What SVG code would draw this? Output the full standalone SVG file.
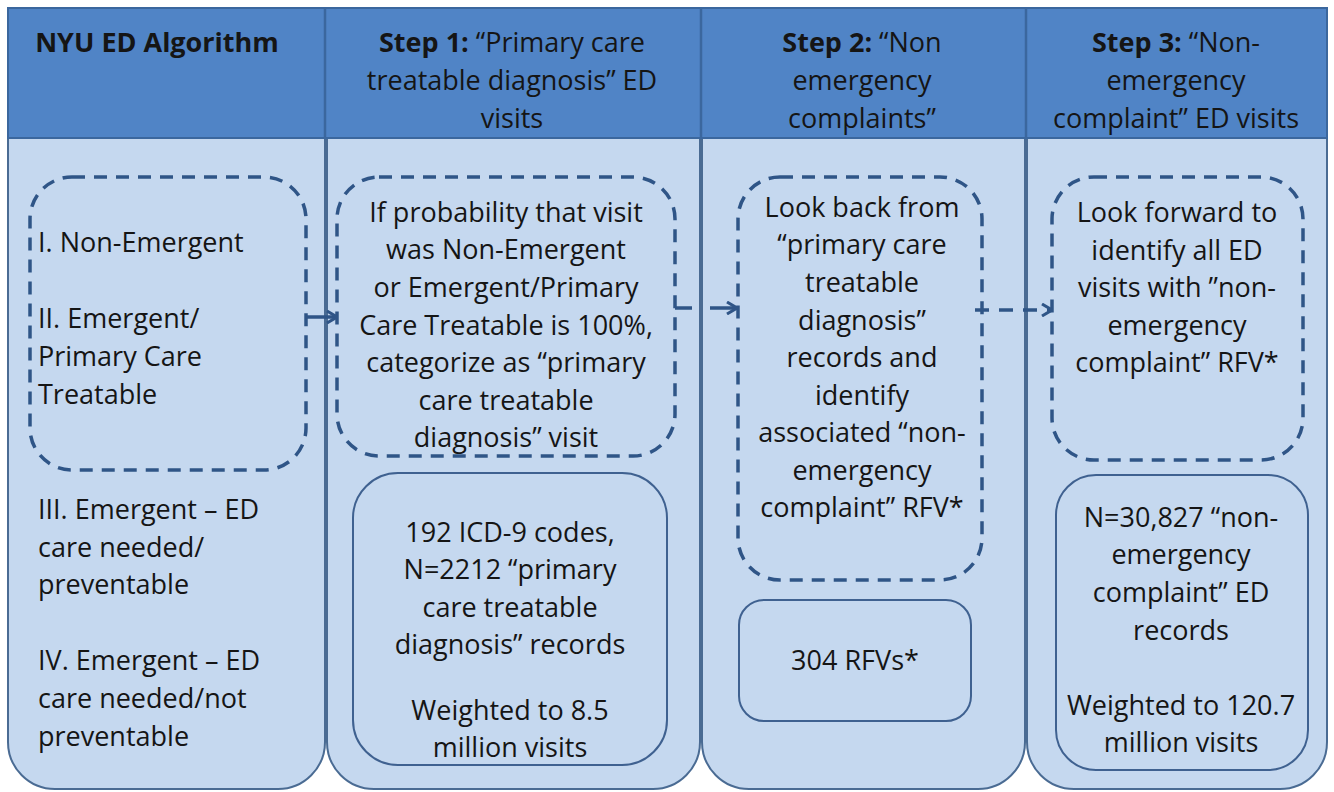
<svg xmlns="http://www.w3.org/2000/svg" width="1334" height="792" viewBox="0 0 1334 792">
<defs>
<style>
.col{fill:#c5d8ef;stroke:#4a6b93;stroke-width:2}
.hdr{fill:#5084c6;stroke:#3b679e;stroke-width:2}
.div{stroke:#3b679e;stroke-width:2.5;fill:none}
.dash{fill:none;stroke:#2f5587;stroke-width:3.5;stroke-dasharray:13 9}
.solid{fill:none;stroke:#3f6190;stroke-width:2}
.t{font-family:"Open Sans",Lato,"Liberation Sans",sans-serif;font-size:27px;fill:#151515}
.c{text-anchor:middle}
.b{font-weight:bold}
.conn{fill:none;stroke:#2f5587;stroke-width:3.5}
</style>
<marker id="arr" viewBox="0 0 12 14" refX="11" refY="7" markerWidth="12" markerHeight="14" markerUnits="userSpaceOnUse" orient="auto">
<polyline points="1,1 11,7 1,13" fill="none" stroke="#2f5587" stroke-width="3"/>
</marker>
</defs>
<rect width="1334" height="792" fill="#ffffff"/>

<g id="col1">
<path class="col" d="M8,138 H325 V742 A47,47 0 0 1 278,789 H55 A47,47 0 0 1 8,742 Z"/>
<rect class="dash" x="30" y="177" width="276" height="293" rx="42"/>
<text class="t" x="38" y="252">I. Non-Emergent</text>
<text class="t" x="38" y="328">II. Emergent/</text>
<text class="t" x="38" y="366">Primary Care</text>
<text class="t" x="38" y="404">Treatable</text>
<text class="t" x="38" y="519">III. Emergent – ED</text>
<text class="t" x="38" y="557">care needed/</text>
<text class="t" x="38" y="594">preventable</text>
<text class="t" x="38" y="670">IV. Emergent – ED</text>
<text class="t" x="38" y="708">care needed/not</text>
<text class="t" x="38" y="746">preventable</text>
</g>

<g id="col2">
<path class="col" d="M327,138 H700 V742 A47,47 0 0 1 653,789 H374 A47,47 0 0 1 327,742 Z"/>
<rect class="dash" x="337" y="177" width="338" height="279" rx="42"/>
<text class="t c" x="506" y="222">If probability that visit</text>
<text class="t c" x="506" y="259">was Non-Emergent</text>
<text class="t c" x="506" y="297">or Emergent/Primary</text>
<text class="t c" x="506" y="335">Care Treatable is 100%,</text>
<text class="t c" x="506" y="372">categorize as “primary</text>
<text class="t c" x="506" y="410">care treatable</text>
<text class="t c" x="506" y="447">diagnosis” visit</text>
<rect class="solid" x="353" y="473" width="314" height="292" rx="45"/>
<text class="t c" x="510" y="542">192 ICD-9 codes,</text>
<text class="t c" x="510" y="579">N=2212 “primary</text>
<text class="t c" x="510" y="617">care treatable</text>
<text class="t c" x="510" y="654">diagnosis” records</text>
<text class="t c" x="510" y="720">Weighted to 8.5</text>
<text class="t c" x="510" y="757">million visits</text>
</g>

<g id="col3">
<path class="col" d="M702,138 H1025 V742 A47,47 0 0 1 978,789 H749 A47,47 0 0 1 702,742 Z"/>
<rect class="dash" x="738" y="177" width="244" height="403" rx="42"/>
<text class="t c" x="862" y="217">Look back from</text>
<text class="t c" x="862" y="254">“primary care</text>
<text class="t c" x="862" y="292">treatable</text>
<text class="t c" x="862" y="330">diagnosis”</text>
<text class="t c" x="862" y="367">records and</text>
<text class="t c" x="862" y="405">identify</text>
<text class="t c" x="862" y="442">associated “non-</text>
<text class="t c" x="862" y="480">emergency</text>
<text class="t c" x="862" y="517">complaint” RFV*</text>
<rect class="solid" x="739" y="600" width="232" height="121" rx="25"/>
<text class="t c" x="855" y="670">304 RFVs*</text>
</g>

<g id="col4">
<path class="col" d="M1027,138 H1327 V742 A47,47 0 0 1 1280,789 H1074 A47,47 0 0 1 1027,742 Z"/>
<rect class="dash" x="1052" y="177" width="251" height="283" rx="42"/>
<text class="t c" x="1177" y="222">Look forward to</text>
<text class="t c" x="1177" y="260">identify all ED</text>
<text class="t c" x="1177" y="297">visits with ”non-</text>
<text class="t c" x="1177" y="335">emergency</text>
<text class="t c" x="1177" y="372">complaint” RFV*</text>
<rect class="solid" x="1056" y="475" width="252" height="295" rx="40"/>
<text class="t c" x="1181" y="527">N=30,827 “non-</text>
<text class="t c" x="1181" y="564">emergency</text>
<text class="t c" x="1181" y="602">complaint” ED</text>
<text class="t c" x="1181" y="640">records</text>
<text class="t c" x="1181" y="715">Weighted to 120.7</text>
<text class="t c" x="1181" y="752">million visits</text>
</g>

<g id="header">
<rect class="hdr" x="8" y="8" width="1319" height="130"/>
<line class="div" x1="325" y1="8" x2="325" y2="138"/>
<line class="div" x1="701" y1="8" x2="701" y2="138"/>
<line class="div" x1="1026" y1="8" x2="1026" y2="138"/>
<text class="t b c" x="157" y="52">NYU ED Algorithm</text>
<text class="t c" x="512" y="52"><tspan class="b">Step 1:</tspan> “Primary care</text>
<text class="t c" x="512" y="90">treatable diagnosis” ED</text>
<text class="t c" x="512" y="128">visits</text>
<text class="t c" x="862" y="52"><tspan class="b">Step 2:</tspan> “Non</text>
<text class="t c" x="862" y="90">emergency</text>
<text class="t c" x="862" y="128">complaints”</text>
<text class="t c" x="1176" y="52"><tspan class="b">Step 3:</tspan> “Non-</text>
<text class="t c" x="1176" y="90">emergency</text>
<text class="t c" x="1176" y="128">complaint” ED visits</text>
</g>

<g id="connectors">
<path class="conn" d="M305,317 H337" marker-end="url(#arr)"/>
<path class="conn" d="M675,308 H692 M710,308 H737" marker-end="url(#arr)"/>
<path class="conn" d="M975,310 H1052" stroke-dasharray="14 10" marker-end="url(#arr)"/>
</g>
</svg>
